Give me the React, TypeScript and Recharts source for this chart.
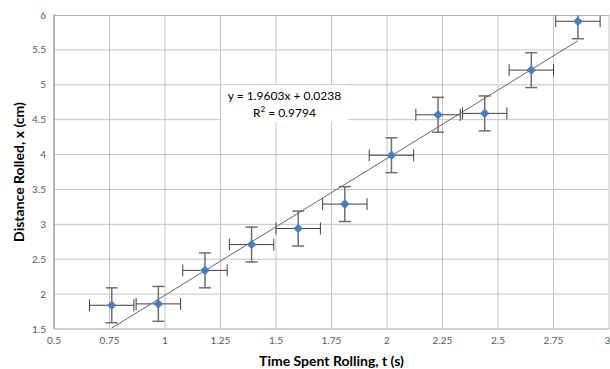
import {
  ComposedChart, Scatter, ErrorBar, XAxis, YAxis, CartesianGrid, ReferenceLine, Label
} from 'recharts';

const times = [0.76, 0.97, 1.18, 1.39, 1.6, 1.81, 2.02, 2.23, 2.44, 2.65, 2.86];
const distances = [1.84, 1.86, 2.34, 2.71, 2.94, 3.29, 3.99, 4.57, 4.59, 5.21, 5.91];
const timeErrors = [0.1, 0.1, 0.1, 0.1, 0.1, 0.1, 0.1, 0.1, 0.1, 0.1, 0.1];
const distanceErrors = [0.25, 0.25, 0.25, 0.25, 0.25, 0.25, 0.25, 0.25, 0.25, 0.25, 0.25];

const xTicks = [0.5, 0.75, 1, 1.25, 1.5, 1.75, 2, 2.25, 2.5, 2.75, 3];
const yTicks = [1.5, 2, 2.5, 3, 3.5, 4, 4.5, 5, 5.5, 6];

// Linear trendline shown on the chart
const slope = 1.9603;
const intercept = 0.0238;
const rSquared = 0.9794;

const points = times.map((t, i) => ({
  t,
  x: distances[i],
  et: timeErrors[i],
  ex: distanceErrors[i],
}));

const tStart = times[0];
const tEnd = times[times.length - 1];
const trend = [
  { t: tStart, x: slope * tStart + intercept },
  { t: tEnd, x: slope * tEnd + intercept },
];

const FONT = 'Lato, "Open Sans", sans-serif';

const Diamond = (props: any) => {
  const { cx, cy } = props;
  if (cx == null || cy == null) return null;
  const r = 4.3;
  return (
    <polygon
      points={`${cx},${cy - r} ${cx + r},${cy} ${cx},${cy + r} ${cx - r},${cy}`}
      fill="#4a7ebb"
      stroke="#4a7ebb"
      strokeWidth={0.8}
      strokeLinejoin="round"
    />
  );
};

const App = () => {
  return (
    <div style={{ position: 'absolute', left: 0, top: 0, width: 610, height: 369, background: '#fff', overflow: 'hidden' }}>
      <ComposedChart width={610} height={369} margin={{ top: 15, right: 1, bottom: 0, left: 0 }}>
        <CartesianGrid stroke="#c4c4c4" strokeWidth={1} />
        <XAxis
          type="number"
          dataKey="t"
          domain={[0.5, 3]}
          ticks={xTicks}
          allowDataOverflow
          tickLine={false}
          axisLine={{ stroke: '#c4c4c4' }}
          height={40}
          tick={{ fontSize: 10, fill: '#595959', fontFamily: FONT }}
          tickFormatter={(v: number) => String(v)}
        >
          <Label
            value="Time Spent Rolling, t (s)"
            position="insideBottom"
            offset={3}
            style={{ fontSize: 14, fontWeight: 700, fill: '#000', fontFamily: FONT }}
          />
        </XAxis>
        <YAxis
          type="number"
          dataKey="x"
          domain={[1.5, 6]}
          ticks={yTicks}
          allowDataOverflow
          tickLine={false}
          axisLine={{ stroke: '#868686' }}
          width={54}
          tick={{ fontSize: 10, fill: '#595959', fontFamily: FONT }}
          tickFormatter={(v: number) => String(v)}
        >
          <Label
            content={({ viewBox }: any) => {
              const cx = viewBox.x + 18;
              const cy = viewBox.y + viewBox.height / 2;
              return (
                <text
                  x={cx}
                  y={cy}
                  transform={`rotate(-90, ${cx}, ${cy})`}
                  textAnchor="middle"
                  dominantBaseline="central"
                  style={{ fontSize: 14, fontWeight: 700, fill: '#000', fontFamily: FONT }}
                >
                  Distance Rolled, x (cm)
                </text>
              );
            }}
          />
        </YAxis>
        <Scatter
          data={trend}
          line={{ stroke: '#666', strokeWidth: 1 }}
          shape={() => null}
          isAnimationActive={false}
        />
        <Scatter data={points} shape={Diamond} isAnimationActive={false}>
          <ErrorBar dataKey="ex" direction="y" width={6} stroke="#6e6e6e" strokeWidth={1.5} />
          <ErrorBar dataKey="et" direction="x" width={6} stroke="#404040" strokeWidth={1} />
        </Scatter>
        <ReferenceLine y={6} stroke="#868686" />
      </ComposedChart>
      {/* mask error bars that run past the top of the plot area */}
      <div style={{ position: 'absolute', left: 55, top: 0, width: 555, height: 14.5, background: '#fff' }} />
      <div
        style={{
          position: 'absolute',
          left: 221,
          top: 85,
          width: 127,
          height: 37,
          background: '#fff',
          fontFamily: FONT,
          fontSize: 12,
          color: '#000',
          textAlign: 'center',
          lineHeight: '17px',
          paddingTop: 2,
          boxSizing: 'border-box',
        }}
      >
        <div>y = {slope}x + {intercept}</div>
        <div>
          R<sup style={{ fontSize: 8, lineHeight: 0 }}>2</sup> = {rSquared}
        </div>
      </div>
    </div>
  );
};

export default App;
